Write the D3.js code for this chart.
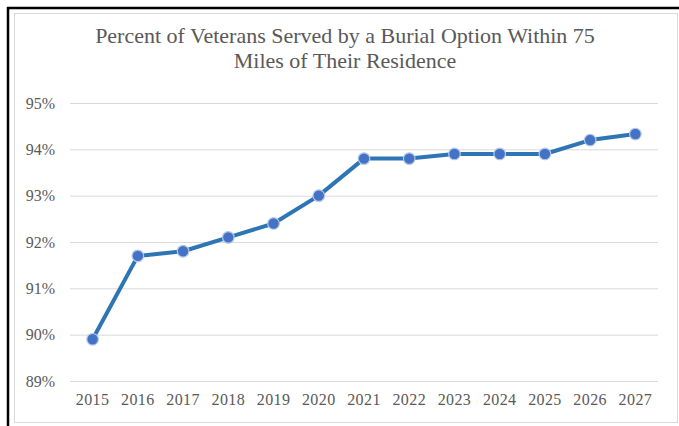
<!DOCTYPE html>
<html>
<head>
<meta charset="utf-8">
<script src="https://cdn.jsdelivr.net/npm/d3@7"></script>
<style>
  body { margin: 0; background: #fff; }
  svg { display: block; }
</style>
</head>
<body>
<div id="chart"></div>
<script>
const years = ["2015", "2016", "2017", "2018", "2019", "2020", "2021", "2022", "2023", "2024", "2025", "2026", "2027"];
const percentServed = [89.9, 91.7, 91.8, 92.1, 92.4, 93.0, 93.8, 93.8, 93.9, 93.9, 93.9, 94.2, 94.33];
const yTicks = [89, 90, 91, 92, 93, 94, 95];
const titleLines = ["Percent of Veterans Served by a Burial Option Within 75", "Miles of Their Residence"];

const width = 679;
const height = 426;
const font = "'Liberation Serif', 'Times New Roman', serif";
const textColor = "#595959";

const svg = d3.select("#chart")
  .append("svg")
  .attr("width", width)
  .attr("height", height);

// outer frame: black edge top/left, thin gray chart border inside
svg.append("line")
  .attr("x1", 7).attr("y1", 8).attr("x2", width).attr("y2", 8)
  .attr("stroke", "#000").attr("stroke-width", 2.5);
svg.append("line")
  .attr("x1", 8).attr("y1", 7).attr("x2", 8).attr("y2", height)
  .attr("stroke", "#000").attr("stroke-width", 2.5);
svg.append("rect")
  .attr("x", 14.5).attr("y", 13.5)
  .attr("width", 663).attr("height", 409)
  .attr("fill", "none")
  .attr("stroke", "#d9d9d9");

const plot = { left: 70, right: 658, top: 103, bottom: 381 };

const x = d3.scaleBand()
  .domain(years)
  .range([plot.left, plot.right]);

const y = d3.scaleLinear()
  .domain([89, 95])
  .range([plot.bottom, plot.top]);

// title (the original is slightly wide, so stretch it a bit horizontally)
svg.append("g")
  .attr("transform", "translate(345,0) scale(1.1,1)")
  .append("text")
  .attr("y", 43)
  .attr("text-anchor", "middle")
  .attr("font-family", font)
  .attr("font-size", 20)
  .attr("fill", textColor)
  .selectAll("tspan")
  .data(titleLines)
  .join("tspan")
  .attr("x", 0)
  .attr("dy", (d, i) => i === 0 ? 0 : 25)
  .text(d => d);

// gridlines + y labels
const yAxis = svg.append("g")
  .attr("transform", `translate(${plot.left},0)`)
  .call(d3.axisLeft(y)
    .tickValues(yTicks)
    .tickSize(-(plot.right - plot.left))
    .tickPadding(15)
    .tickFormat(d => d + "%"));
yAxis.select(".domain").remove();
yAxis.selectAll(".tick line").attr("stroke", "#d9d9d9").attr("stroke-width", 1);
yAxis.selectAll(".tick text")
  .attr("font-family", font)
  .attr("font-size", 16)
  .attr("fill", textColor);

// x labels
const xAxis = svg.append("g")
  .attr("transform", `translate(0,${plot.bottom})`)
  .call(d3.axisBottom(x).tickSize(0).tickPadding(13));
xAxis.select(".domain").remove();
xAxis.selectAll(".tick text")
  .attr("font-family", font)
  .attr("font-size", 16)
  .attr("letter-spacing", 0.4)
  .attr("fill", textColor);

const cx = d => x(d) + x.bandwidth() / 2;

const line = d3.line()
  .x((d, i) => cx(years[i]))
  .y(d => y(d));

svg.append("path")
  .datum(percentServed)
  .attr("d", line)
  .attr("fill", "none")
  .attr("stroke", "#2e75b6")
  .attr("stroke-width", 4)
  .attr("stroke-linejoin", "round");

svg.append("g")
  .selectAll("circle")
  .data(percentServed)
  .join("circle")
  .attr("cx", (d, i) => cx(years[i]))
  .attr("cy", d => y(d))
  .attr("r", 5.8)
  .attr("fill", "#4472c4")
  .attr("stroke", "#b4c7e7")
  .attr("stroke-width", 1.2);
</script>
</body>
</html>
